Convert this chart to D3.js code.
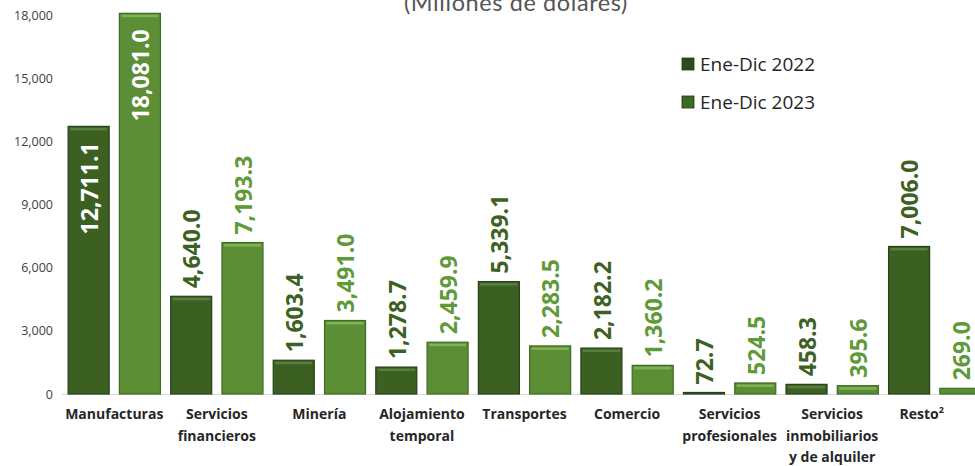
<!DOCTYPE html>
<html>
<head>
<meta charset="utf-8">
<script src="https://d3js.org/d3.v7.min.js"></script>
<title>Inversión por sector</title>
<style>
  body { margin: 0; background: #ffffff; }
  svg { display: block; }
</style>
</head>
<body>
<svg id="chart" width="975" height="466"></svg>
<script>
// data
var categories = [
  ["Manufacturas"],
  ["Servicios", "financieros"],
  ["Minería"],
  ["Alojamiento", "temporal"],
  ["Transportes"],
  ["Comercio"],
  ["Servicios", "profesionales"],
  ["Servicios", "inmobiliarios", "y de alquiler"],
  ["Resto"]
];
var series = ["Ene-Dic 2022", "Ene-Dic 2023"];
var values2022 = [12711.1, 4640.0, 1603.4, 1278.7, 5339.1, 2182.2, 72.7, 458.3, 7006.0];
var values2023 = [18081.0, 7193.3, 3491.0, 2459.9, 2283.5, 1360.2, 524.5, 395.6, 269.0];
var yTicks = [0, 3000, 6000, 9000, 12000, 15000, 18000];

var fills = ["#3c5f22", "#5b8e35"];
var edges = ["#27411a", "#3f6b23"];
var shine = ["#58803a", "#7fb257"];
var labelColors = ["#3d6123", "#5f9a38"];

var svg = d3.select("#chart");
var width = 975, height = 466;

var keys = categories.map(function(c) { return c.join(" "); });
var x0 = d3.scaleBand().domain(keys).range([63, 986]).padding(0);
var x1 = d3.scaleBand().domain(series).range([0, x0.bandwidth()]).paddingInner(0.2).paddingOuter(0.1);
var y = d3.scaleLinear().domain([0, 18000]).range([394, 15]);

var rows = [];
keys.forEach(function(k, i) {
  rows.push({cat: k, s: 0, v: values2022[i]});
  rows.push({cat: k, s: 1, v: values2023[i]});
});

// title (cut off at top in the original)
svg.append("text")
  .attr("x", 516).attr("y", 11)
  .attr("text-anchor", "middle")
  .attr("font-family", "Lato, 'DejaVu Sans', sans-serif")
  .attr("font-size", "23.5px")
  .attr("fill", "#555")
  .attr("letter-spacing", "0.6px")
  .text("(Millones  de dólares)");

// y axis, no domain line
var yAxis = svg.append("g")
  .attr("transform", "translate(55,0)")
  .call(d3.axisLeft(y).tickValues(yTicks).tickSize(0).tickPadding(2).tickFormat(d3.format(",")));
yAxis.select(".domain").remove();
yAxis.selectAll("text")
  .attr("font-family", "'Open Sans', sans-serif")
  .attr("font-size", "12.5px")
  .attr("fill", "#404040");

// baseline
svg.append("line")
  .attr("x1", 62).attr("x2", width)
  .attr("y1", y(0) + 0.5).attr("y2", y(0) + 0.5)
  .attr("stroke", "#d9d9d9").attr("stroke-width", 1);

// bars
var bars = svg.append("g").selectAll("g")
  .data(rows)
  .enter().append("g")
  .attr("transform", function(d) { return "translate(" + (x0(d.cat) + x1(series[d.s])) + ",0)"; });

bars.append("rect")
  .attr("x", 0)
  .attr("y", function(d) { return y(d.v); })
  .attr("width", x1.bandwidth())
  .attr("height", function(d) { return y(0) - y(d.v); })
  .attr("fill", function(d) { return fills[d.s]; })
  .attr("stroke", function(d) { return edges[d.s]; })
  .attr("stroke-width", 1.2);

// bevel highlight along the top
bars.filter(function(d) { return y(0) - y(d.v) > 6; })
  .append("rect")
  .attr("x", 2)
  .attr("y", function(d) { return y(d.v) + 1.5; })
  .attr("width", x1.bandwidth() - 4)
  .attr("height", 2.5)
  .attr("fill", function(d) { return shine[d.s]; });

// value labels
bars.append("text")
  .attr("transform", function(d) {
    var inside = d.v > 10000;
    var ty = inside ? y(d.v) + 16 : y(d.v) - 8;
    return "translate(" + (x1.bandwidth() / 2 + 1) + "," + ty + ") rotate(-90)";
  })
  .attr("dy", "0.36em")
  .attr("text-anchor", function(d) { return d.v > 10000 ? "end" : "start"; })
  .attr("font-family", "'Open Sans', sans-serif")
  .attr("font-weight", 700)
  .attr("font-size", "23px")
  .attr("fill", function(d) { return d.v > 10000 ? "#ffffff" : labelColors[d.s]; })
  .text(function(d) { return d3.format(",.1f")(d.v); });

// category labels
var catG = svg.append("g").selectAll("text")
  .data(categories)
  .enter().append("text")
  .attr("x", function(d, i) { return x0(keys[i]) + x0.bandwidth() / 2; })
  .attr("y", 419)
  .attr("text-anchor", "middle")
  .attr("font-family", "'Open Sans', sans-serif")
  .attr("font-weight", 700)
  .attr("font-size", "14px")
  .attr("fill", "#262626");

catG.each(function(d, i) {
  var t = d3.select(this);
  if (d[0] == "Resto") {
    t.attr("x", x0(keys[i]) + x0.bandwidth() / 2 - 13);
    t.append("tspan").text("Resto");
    t.append("tspan").attr("dy", "-0.7em").attr("font-size", "9px").text("2");
    return;
  }
  d.forEach(function(line, j) {
    t.append("tspan")
      .attr("x", x0(keys[i]) + x0.bandwidth() / 2)
      .attr("y", 419 + j * 21.5)
      .text(line);
  });
});

// legend
var legend = svg.append("g").selectAll("g")
  .data(series)
  .enter().append("g")
  .attr("transform", function(d, i) { return "translate(682," + (58 + i * 38) + ")"; });

legend.append("rect")
  .attr("width", 12).attr("height", 12)
  .attr("fill", function(d, i) { return i == 0 ? "#2f4c1b" : "#3d6a23"; })
  .attr("stroke", "#1f3310").attr("stroke-width", 0.8);

legend.append("text")
  .attr("x", 18).attr("y", 6)
  .attr("dy", "0.36em")
  .attr("font-family", "'Open Sans', sans-serif")
  .attr("font-size", "19px")
  .attr("fill", "#262626")
  .text(function(d) { return d; });
</script>
</body>
</html>
